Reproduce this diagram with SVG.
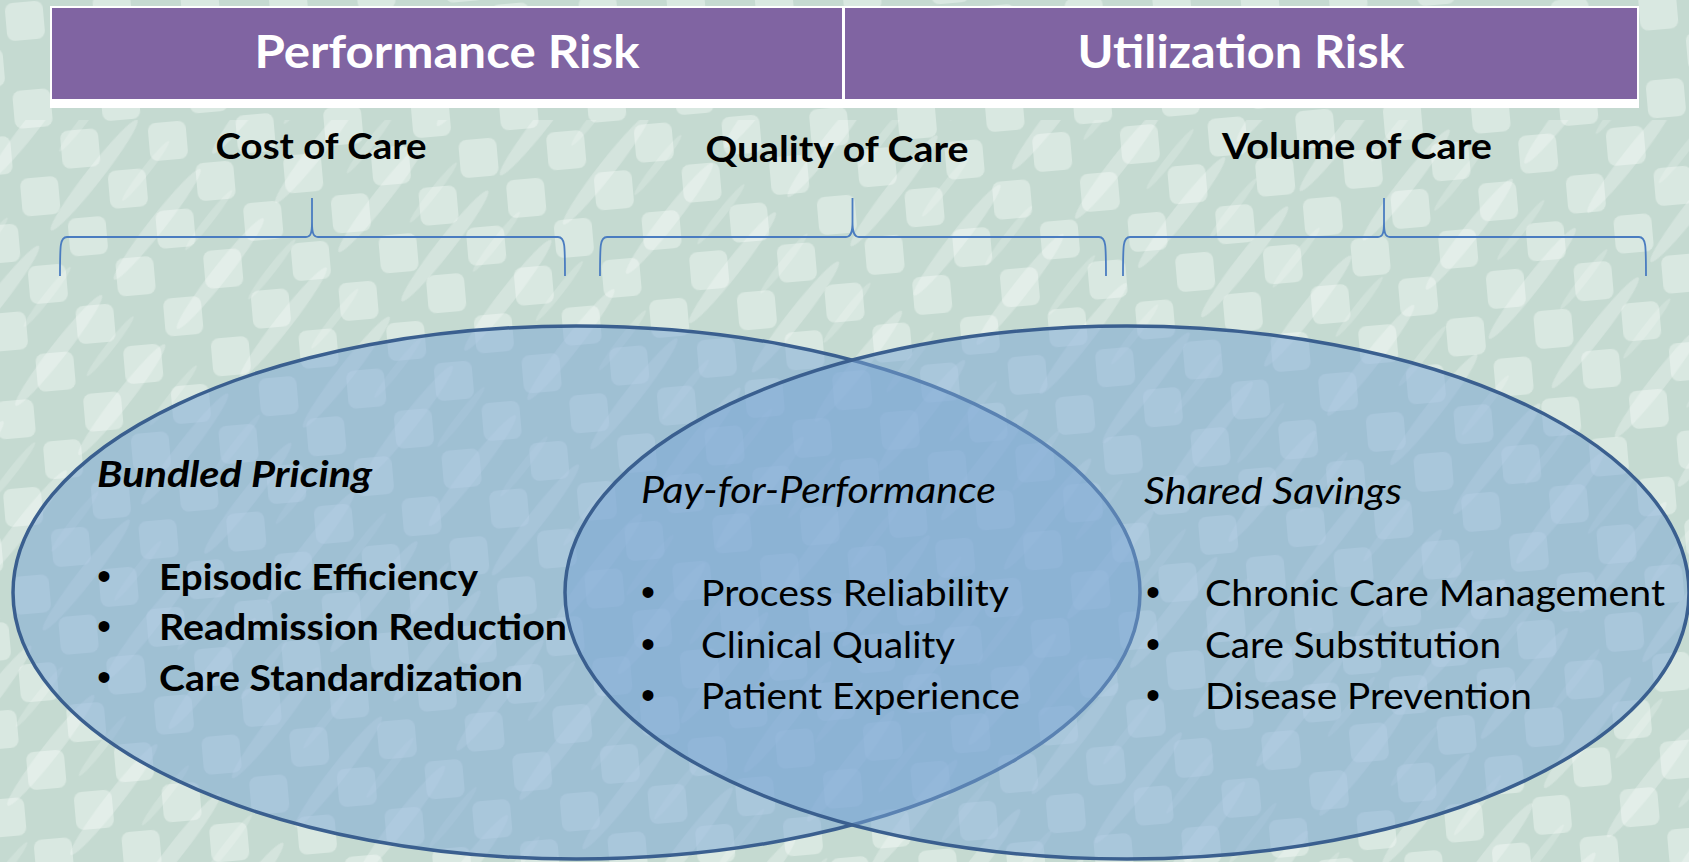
<svg xmlns="http://www.w3.org/2000/svg" width="1689" height="862" viewBox="0 0 1689 862">
<defs>
<style>
.hdr{font-family:Lato,"Liberation Sans",sans-serif;font-weight:bold;font-size:46px;fill:#ffffff;text-anchor:middle}
.sub{font-family:Lato,"Liberation Sans",sans-serif;font-weight:bold;font-size:36px;fill:#000000;text-anchor:middle}
.ttl{font-family:Lato,"Liberation Sans",sans-serif;font-style:italic;font-size:37px;fill:#000000}
.ttlb{font-family:Lato,"Liberation Sans",sans-serif;font-style:italic;font-weight:bold;font-size:37px;fill:#000000}
.itm{font-family:Lato,"Liberation Sans",sans-serif;font-size:37px;fill:#000000}
.itmb{font-family:Lato,"Liberation Sans",sans-serif;font-weight:bold;font-size:37px;fill:#000000}
.bul{font-family:"Liberation Sans",sans-serif;font-size:40px;fill:#000000;text-anchor:middle}
.brace{fill:none;stroke:#4a7cc0;stroke-width:1.8}
.venn{fill:#7aa5d6;fill-opacity:0.5;stroke:#3a5f8f;stroke-width:3.5}
</style>
<pattern id="checks" width="88" height="88" patternUnits="userSpaceOnUse" patternTransform="rotate(-5)">
<rect width="88" height="88" fill="#c5dad1"/>
<rect x="4" y="4" width="38" height="38" rx="8" fill="#deebe5" fill-opacity="0.8"/>
<rect x="48" y="48" width="38" height="38" rx="8" fill="#deebe5" fill-opacity="0.8"/>
</pattern>
<pattern id="streaks" width="80" height="160" patternUnits="userSpaceOnUse" patternTransform="rotate(38)">
<ellipse cx="22" cy="80" rx="8" ry="70" fill="#ffffff" fill-opacity="0.26"/>
<ellipse cx="60" cy="45" rx="4" ry="38" fill="#ffffff" fill-opacity="0.18"/>
</pattern>
</defs>
<rect width="1689" height="862" fill="url(#checks)"/>
<rect y="120" width="1689" height="742" fill="url(#streaks)"/>

<g id="header-bar">
<rect x="50" y="6" width="1589" height="102" fill="#ffffff"/>
</g>
<g id="performance-risk">
<rect x="52" y="8" width="790" height="91" fill="#8064a2"/>
<text class="hdr" x="447" y="68" textLength="385" lengthAdjust="spacingAndGlyphs">Performance Risk</text>
</g>
<g id="utilization-risk">
<rect x="845" y="8" width="792" height="91" fill="#8064a2"/>
<text class="hdr" x="1241" y="68" textLength="327" lengthAdjust="spacingAndGlyphs">Utilization Risk</text>
</g>

<g id="cost-of-care">
<text class="sub" x="321" y="159" textLength="211" lengthAdjust="spacingAndGlyphs">Cost of Care</text>
</g>
<g id="quality-of-care">
<text class="sub" x="837" y="162" textLength="263" lengthAdjust="spacingAndGlyphs">Quality of Care</text>
</g>
<g id="volume-of-care">
<text class="sub" x="1357" y="159" textLength="270" lengthAdjust="spacingAndGlyphs">Volume of Care</text>
</g>

<g id="connectors">
<path class="brace" d="M60,276 C60,245 60,237 67,237 L306,237 C311,237 312,232 312,222 L312,198 M312,222 C312,232 313,237 318,237 L558,237 C565,237 565,245 565,276"/>
<path class="brace" d="M600,276 C600,245 600,237 607,237 L846,237 C851,237 852.5,232 852.5,222 L852.5,198 M852.5,222 C852.5,232 854,237 859,237 L1099,237 C1106,237 1106,245 1106,276"/>
<path class="brace" d="M1123,276 C1123,245 1123,237 1130,237 L1378,237 C1383,237 1384,232 1384,222 L1384,198 M1384,222 C1384,232 1385,237 1390,237 L1639,237 C1646,237 1646,245 1646,276"/>
</g>

<g id="bundled-pricing">
<ellipse class="venn" cx="576.5" cy="592.5" rx="563.5" ry="266.5"/>
</g>
<g id="shared-savings">
<ellipse class="venn" cx="1127" cy="592.5" rx="562" ry="266.5"/>
</g>

<g id="bundled-pricing-text">
<text class="ttlb" x="97" y="487" textLength="275" lengthAdjust="spacingAndGlyphs">Bundled Pricing</text>
<text class="bul" x="104" y="590">•</text>
<text class="bul" x="104" y="640">•</text>
<text class="bul" x="104" y="691">•</text>
<text class="itmb" x="159" y="590" textLength="319" lengthAdjust="spacingAndGlyphs">Episodic Efficiency</text>
<text class="itmb" x="159" y="640" textLength="408" lengthAdjust="spacingAndGlyphs">Readmission Reduction</text>
<text class="itmb" x="159" y="691" textLength="364" lengthAdjust="spacingAndGlyphs">Care Standardization</text>
</g>
<g id="pay-for-performance">
<text class="ttl" x="641" y="503" textLength="355" lengthAdjust="spacingAndGlyphs">Pay-for-Performance</text>
<text class="bul" x="648" y="606">•</text>
<text class="bul" x="648" y="658">•</text>
<text class="bul" x="648" y="709">•</text>
<text class="itm" x="701" y="606" textLength="308" lengthAdjust="spacingAndGlyphs">Process Reliability</text>
<text class="itm" x="701" y="658" textLength="254" lengthAdjust="spacingAndGlyphs">Clinical Quality</text>
<text class="itm" x="701" y="709" textLength="319" lengthAdjust="spacingAndGlyphs">Patient Experience</text>
</g>
<g id="shared-savings-text">
<text class="ttl" x="1144" y="504" textLength="258" lengthAdjust="spacingAndGlyphs">Shared Savings</text>
<text class="bul" x="1153" y="606">•</text>
<text class="bul" x="1153" y="658">•</text>
<text class="bul" x="1153" y="709">•</text>
<text class="itm" x="1205" y="606" textLength="460" lengthAdjust="spacingAndGlyphs">Chronic Care Management</text>
<text class="itm" x="1205" y="658" textLength="296" lengthAdjust="spacingAndGlyphs">Care Substitution</text>
<text class="itm" x="1205" y="709" textLength="327" lengthAdjust="spacingAndGlyphs">Disease Prevention</text>
</g>
</svg>
